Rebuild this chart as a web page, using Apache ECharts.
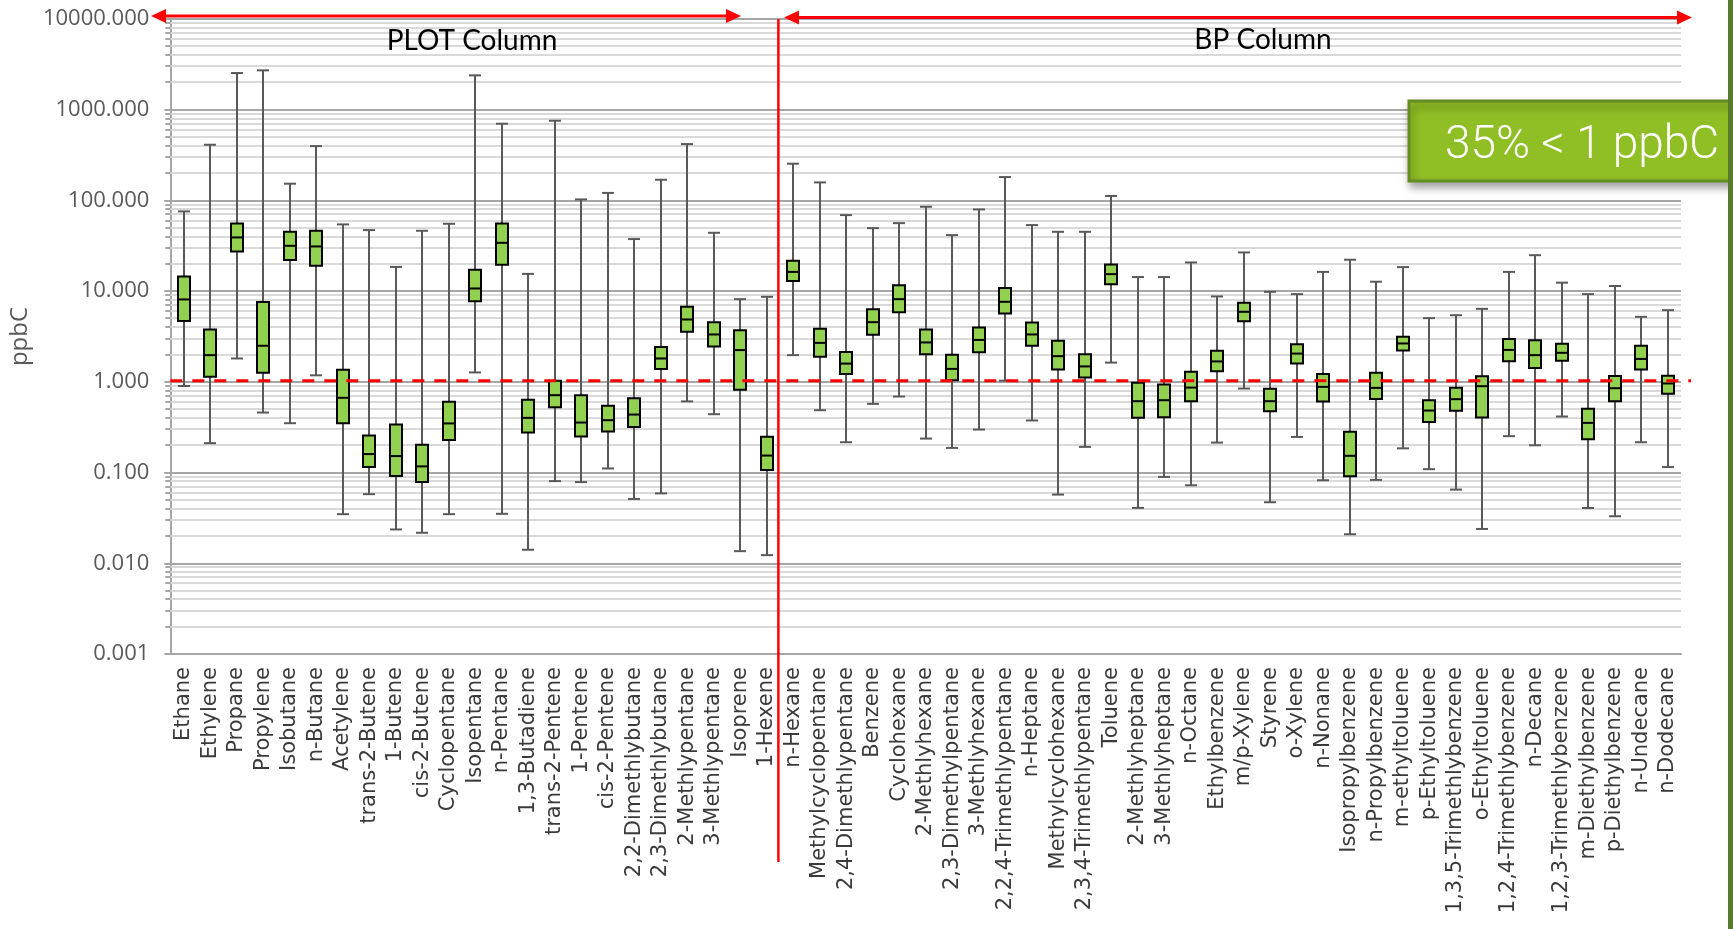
<!DOCTYPE html>
<html>
<head>
<meta charset="utf-8">
<script src="https://cdn.jsdelivr.net/npm/echarts@6/dist/echarts.min.js"></script>
<style>
  html, body { margin: 0; padding: 0; background: #ffffff; }
  #chart { width: 1733px; height: 929px; }
</style>
</head>
<body>
<div id="chart"></div>
<script>
// VOC concentration distributions (ppbC), one box per compound
const compounds = [
  'Ethane', 'Ethylene', 'Propane', 'Propylene', 'Isobutane', 'n-Butane', 'Acetylene',
  'trans-2-Butene', '1-Butene', 'cis-2-Butene', 'Cyclopentane', 'Isopentane', 'n-Pentane',
  '1,3-Butadiene', 'trans-2-Pentene', '1-Pentene', 'cis-2-Pentene', '2,2-Dimethlybutane',
  '2,3-Dimethlybutane', '2-Methlypentane', '3-Methlypentane', 'Isoprene', '1-Hexene',
  'n-Hexane', 'Methylcyclopentane', '2,4-Dimethlypentane', 'Benzene', 'Cyclohexane',
  '2-Methlyhexane', '2,3-Dimethylpentane', '3-Methlyhexane', '2,2,4-Trimethlypentane',
  'n-Heptane', 'Methylcyclohexane', '2,3,4-Trimethlypentane', 'Toluene', '2-Methlyheptane',
  '3-Methlyheptane', 'n-Octane', 'Ethylbenzene', 'm/p-Xylene', 'Styrene', 'o-Xylene',
  'n-Nonane', 'Isopropylbenzene', 'n-Propylbenzene', 'm-ethyltoluene', 'p-Ethyltoluene',
  '1,3,5-Trimethlybenzene', 'o-Ethyltoluene', '1,2,4-Trimethlybenzene', 'n-Decane',
  '1,2,3-Trimethlybenzene', 'm-Diethylbenzene', 'p-Diethylbenzene', 'n-Undecane', 'n-Dodecane'
];

const minima = [
  0.90, 0.211, 1.81, 0.459, 0.350, 1.18, 0.0348, 0.0578, 0.0236, 0.0217, 0.0348, 1.27, 0.0351,
  0.0141, 0.0805, 0.0785, 0.111, 0.0512, 0.059, 0.609, 0.440, 0.0136, 0.0123,
  1.97, 0.487, 0.216, 0.572, 0.689, 0.237, 0.187, 0.298, 1.03, 0.375, 0.0572, 0.192, 1.63,
  0.0408, 0.0896, 0.0724, 0.214, 0.844, 0.0471, 0.247, 0.0823, 0.0209, 0.083, 0.185, 0.109,
  0.0649, 0.0239, 0.252, 0.200, 0.415, 0.0407, 0.033, 0.216, 0.115
];
const lowerQuartiles = [
  4.7, 1.135, 27.4, 1.26, 22.0, 19.0, 0.350, 0.115, 0.0914, 0.0785, 0.228, 7.76, 19.5,
  0.277, 0.526, 0.250, 0.284, 0.318, 1.39, 3.56, 2.45, 0.816, 0.107,
  12.9, 1.89, 1.22, 3.30, 5.87, 2.02, 1.04, 2.12, 5.67, 2.50, 1.37, 1.12, 11.9,
  0.401, 0.408, 0.612, 1.31, 4.67, 0.474, 1.59, 0.607, 0.0911, 0.649, 2.22, 0.362,
  0.479, 0.404, 1.69, 1.42, 1.71, 0.233, 0.612, 1.37, 0.738
];
const medians = [
  8.1, 1.97, 39.1, 2.50, 31.6, 31.1, 0.667, 0.160, 0.152, 0.117, 0.348, 10.7, 34.1,
  0.401, 0.713, 0.356, 0.378, 0.436, 1.81, 4.87, 3.33, 2.24, 0.154,
  16.3, 2.69, 1.59, 4.55, 8.16, 2.72, 1.39, 2.90, 7.63, 3.33, 1.92, 1.48, 15.4,
  0.612, 0.628, 0.865, 1.68, 5.92, 0.612, 2.05, 0.881, 0.153, 0.859, 2.65, 0.483,
  0.644, 0.896, 2.25, 1.97, 2.09, 0.353, 0.851, 1.79, 0.96
];
const upperQuartiles = [
  14.5, 3.78, 55.7, 7.57, 45.1, 46.3, 1.36, 0.256, 0.339, 0.202, 0.602, 17.2, 55.7,
  0.634, 1.03, 0.713, 0.544, 0.658, 2.43, 6.72, 4.55, 3.71, 0.249,
  21.6, 3.84, 2.14, 6.33, 11.6, 3.78, 1.99, 3.97, 10.8, 4.51, 2.83, 2.02, 19.7,
  0.98, 0.935, 1.29, 2.20, 7.43, 0.838, 2.60, 1.22, 0.281, 1.26, 3.14, 0.628,
  0.859, 1.15, 2.96, 2.88, 2.63, 0.504, 1.16, 2.50, 1.17
];
const maxima = [
  75.7, 411, 2537, 2716, 153, 397, 54.4, 47.1, 18.5, 46.3, 55.3, 2392, 701,
  15.5, 756, 102.6, 121, 37.5, 169, 418, 44.0, 8.16, 8.66,
  254, 158, 68.9, 49.5, 56.2, 85.2, 41.5, 79.6, 181, 53.5, 45.1, 45.1, 112,
  14.3, 14.3, 20.7, 8.74, 26.7, 9.83, 9.27, 16.3, 22.2, 12.7, 18.4, 5.04,
  5.43, 6.38, 16.3, 24.9, 12.4, 9.27, 11.4, 5.21, 6.17
];

// y axis decades and their labels
const yTickLabels = ['0.001', '0.010', '0.100', '1.000', '10.000', '100.000', '1000.000', '10000.000'];
const decadeStarts = [0.001, 0.01, 0.1, 1, 10, 100, 1000];
const minorMultipliers = [2, 3, 4, 5, 6, 7, 8, 9];

// threshold and the column split (PLOT column ends after index 22)
const thresholdValue = 1;
const lastPlotColumnIndex = 22;
const columnTitles = ['PLOT Column', 'BP Column'];
const calloutText = '35% < 1 ppbC';

const minorGridRows = [];
decadeStarts.forEach(d => minorMultipliers.forEach(m => minorGridRows.push([0, +(m * d).toPrecision(3)])));

const boxRows = compounds.map((c, i) => [i, minima[i], lowerQuartiles[i], medians[i], upperQuartiles[i], maxima[i]]);

const chart = echarts.init(document.getElementById('chart'), null, { renderer: 'canvas' });

function renderMinorGrid(params, api) {
  const cs = params.coordSys;
  const y = Math.round(api.coord([0, api.value(1)])[1]);
  return {
    type: 'group',
    children: [
      { type: 'line', shape: { x1: cs.x, y1: y, x2: cs.x + cs.width, y2: y },
        style: { stroke: '#D9D9D9', lineWidth: 2 } },
      { type: 'line', shape: { x1: cs.x - 5, y1: y, x2: cs.x, y2: y },
        style: { stroke: '#A6A6A6', lineWidth: 2 } }
    ]
  };
}

function renderBox(params, api) {
  const i = api.value(0);
  const pMin = api.coord([i, api.value(1)]);
  const pQ1 = api.coord([i, api.value(2)]);
  const pMed = api.coord([i, api.value(3)]);
  const pQ3 = api.coord([i, api.value(4)]);
  const pMax = api.coord([i, api.value(5)]);
  const x = Math.round(pMin[0]);
  const hw = 6, cw = 6;
  const whisker = { stroke: '#595959', lineWidth: 2 };
  return {
    type: 'group',
    children: [
      { type: 'line', shape: { x1: x, y1: pMax[1], x2: x, y2: pMin[1] }, style: whisker },
      { type: 'line', shape: { x1: x - cw, y1: pMax[1], x2: x + cw, y2: pMax[1] }, style: whisker },
      { type: 'line', shape: { x1: x - cw, y1: pMin[1], x2: x + cw, y2: pMin[1] }, style: whisker },
      { type: 'rect', shape: { x: x - hw, y: pQ3[1], width: hw * 2, height: pQ1[1] - pQ3[1] },
        style: { fill: '#92D050', stroke: '#000000', lineWidth: 2 } },
      { type: 'line', shape: { x1: x - hw, y1: pMed[1], x2: x + hw, y2: pMed[1] },
        style: { stroke: '#000000', lineWidth: 2 } }
    ]
  };
}

const option = {
  animation: false,
  backgroundColor: '#ffffff',
  grid: { left: 150, right: 52, top: 19, bottom: 275, containLabel: false },
  xAxis: {
    type: 'category',
    data: compounds,
    boundaryGap: true,
    axisLine: { onZero: false, lineStyle: { color: '#A6A6A6', width: 2 } },
    axisTick: { show: false },
    splitLine: { show: false },
    axisLabel: {
      rotate: 90, interval: 0, margin: 13,
      fontSize: 21, fontFamily: 'DejaVu Sans', color: '#3A3A3A'
    }
  },
  yAxis: {
    type: 'log',
    logBase: 10,
    min: 0.001,
    max: 10000,
    splitNumber: 7,
    name: 'ppbC',
    nameLocation: 'middle',
    nameGap: 112,
    nameTextStyle: { fontSize: 24, color: '#595959', fontFamily: 'Open Sans' },
    axisLine: { show: true, lineStyle: { color: '#A6A6A6', width: 2 } },
    axisTick: { show: true, length: 6, lineStyle: { color: '#A6A6A6', width: 2 } },
    splitLine: { show: true, lineStyle: { color: '#A6A6A6', width: 2 } },
    axisLabel: {
      margin: 21, fontSize: 22, color: '#595959', fontFamily: 'Open Sans',
      formatter: v => yTickLabels[Math.round(Math.log10(v)) + 3]
    }
  },
  series: [
    {
      type: 'custom', name: 'minor grid', silent: true, z: 1, clip: false,
      data: minorGridRows, encode: { x: 0, y: 1 },
      renderItem: renderMinorGrid
    },
    {
      type: 'custom', name: 'ppbC', z: 5,
      data: boxRows, encode: { x: 0, y: [1, 2, 3, 4, 5] },
      renderItem: renderBox
    }
  ]
};

chart.setOption(option);

// annotations positioned through the axes
const yThreshold = chart.convertToPixel({ yAxisIndex: 0 }, thresholdValue);
const xSplit = (chart.convertToPixel({ xAxisIndex: 0 }, lastPlotColumnIndex) +
                chart.convertToPixel({ xAxisIndex: 0 }, lastPlotColumnIndex + 1)) / 2 - 1.5;
const yTop = chart.convertToPixel({ yAxisIndex: 0 }, 10000);
const catStep = chart.convertToPixel({ xAxisIndex: 0 }, 1) - chart.convertToPixel({ xAxisIndex: 0 }, 0);
const xLeft = chart.convertToPixel({ xAxisIndex: 0 }, 0) - catStep / 2;

function arrow(x1, x2, y) {
  const hl = 15, hh = 7;
  return [
    { type: 'line', z: 20, shape: { x1: x1 + hl - 2, y1: y, x2: x2 - hl + 2, y2: y },
      style: { stroke: '#FF0000', lineWidth: 3 } },
    { type: 'polygon', z: 20, shape: { points: [[x1, y], [x1 + hl, y - hh], [x1 + hl, y + hh]] },
      style: { fill: '#FF0000' } },
    { type: 'polygon', z: 20, shape: { points: [[x2, y], [x2 - hl, y - hh], [x2 - hl, y + hh]] },
      style: { fill: '#FF0000' } }
  ];
}

const graphics = [
  // dashed 1 ppbC threshold
  { type: 'line', z: 15, shape: { x1: xLeft, y1: yThreshold - 1, x2: 1691, y2: yThreshold - 1 },
    style: { stroke: '#FF0000', lineWidth: 3, lineDash: [12, 10] } },
  // column split
  { type: 'line', z: 15, shape: { x1: xSplit, y1: yTop, x2: xSplit, y2: 862 },
    style: { stroke: '#FF0000', lineWidth: 2.5 } },
  ...arrow(151, 741, 16),
  ...arrow(784, 1692, 17.5),
  { type: 'text', z: 20, x: 472, y: 41,
    style: { text: columnTitles[0], fill: '#000000', fontSize: 28, fontFamily: 'Lato',
             align: 'center', verticalAlign: 'middle' } },
  { type: 'text', z: 20, x: 1263, y: 40,
    style: { text: columnTitles[1], fill: '#000000', fontSize: 28, fontFamily: 'Lato',
             align: 'center', verticalAlign: 'middle' } },
  // right edge band
  { type: 'rect', z: 30, shape: { x: 1728, y: 0, width: 5, height: 929 },
    style: { fill: '#587A2C' } },
  // callout
  { type: 'rect', z: 25, shape: { x: 1409, y: 101, width: 340, height: 80 },
    style: { fill: '#8FBE25', stroke: '#658C22', lineWidth: 3,
             shadowBlur: 8, shadowOffsetX: 2, shadowOffsetY: 5, shadowColor: 'rgba(0,0,0,0.35)' } },
  { type: 'text', z: 26, x: 1582, y: 146,
    style: { text: calloutText, fill: '#ffffff', fontSize: 46, fontWeight: 300,
             fontFamily: 'Roboto', align: 'center', verticalAlign: 'middle' } }
];

chart.setOption({ graphic: graphics });
</script>
</body>
</html>
